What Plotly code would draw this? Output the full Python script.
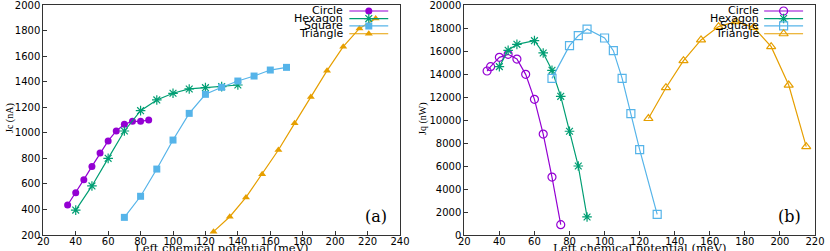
import plotly.graph_objects as go

# ---------------- data ----------------
series_names = ["Circle", "Hexagon", "Square", "Triangle"]
series_colors = ["#9400d3", "#009e73", "#56b4e9", "#e69f00"]

# panel (a): Jc (nA)
a_circle_x = [35, 40, 45, 50, 55, 60, 65, 70, 75, 80, 85]
a_circle_y = [435, 531, 633, 737, 842, 936, 1014, 1066, 1090, 1090, 1100]
a_hex_x = [40, 50, 60, 70, 80, 90, 100, 110, 120, 130, 140]
a_hex_y = [395, 584, 800, 1014, 1173, 1257, 1309, 1343, 1353, 1361, 1374]
a_sq_x = [70, 80, 90, 100, 110, 120, 130, 140, 150, 160, 170]
a_sq_y = [338, 503, 716, 943, 1152, 1301, 1356, 1405, 1444, 1491, 1512]
a_tri_x = [125, 135, 145, 155, 165, 175, 185, 195, 205, 215, 225]
a_tri_y = [226, 343, 494, 675, 865, 1074, 1280, 1486, 1674, 1817, 1895]

# panel (b): Jq (nW)
b_circle_x = [33, 35, 40, 45, 50, 55, 60, 65, 70, 75]
b_circle_y = [14260, 14640, 15450, 15710, 15300, 13970, 11800, 8780, 5040, 900]
b_hex_x = [40, 45, 50, 60, 65, 70, 75, 80, 85, 90]
b_hex_y = [14640, 16060, 16580, 16900, 15830, 14320, 12060, 9020, 6000, 1570]
b_sq_x = [70, 80, 85, 90, 100, 105, 110, 115, 120, 130]
b_sq_y = [13620, 16460, 17330, 17910, 17130, 16030, 13620, 10550, 7420, 1800]
b_tri_x = [125, 135, 145, 155, 165, 175, 185, 195, 205, 215]
b_tri_y = [10130, 12810, 15160, 16960, 18120, 18550, 18060, 16380, 13040, 7680]

a_xticks = list(range(20, 241, 20))
a_yticks = list(range(200, 2001, 200))
b_xticks = list(range(20, 221, 20))
b_yticks = list(range(0, 20001, 2000))

x_title = "Left chemical potential (meV)"
a_y_title = "Jc (nA)"
b_y_title = "Jq (nW)"

# ---------------- styling ----------------
a_symbols = ["circle", "asterisk-open", "square", "triangle-up"]
b_symbols = ["circle-open", "asterisk-open", "square-open", "triangle-up-open"]
a_sizes = [7, 8, 7, 7]
b_sizes = [8, 8, 8, 8]
legend_rows = [0.974, 0.941, 0.909, 0.875]

W, H = 830, 251
TOP, BOT = 5, 16
PH = H - TOP - BOT
a_dom = [43.3 / W, 400 / W]
b_dom = [464.3 / W, 815 / W]

fig = go.Figure()

a_data = [(a_circle_x, a_circle_y), (a_hex_x, a_hex_y), (a_sq_x, a_sq_y), (a_tri_x, a_tri_y)]
b_data = [(b_circle_x, b_circle_y), (b_hex_x, b_hex_y), (b_sq_x, b_sq_y), (b_tri_x, b_tri_y)]


def marker(sym, size, col):
    if "open" in sym:
        return dict(symbol=sym, size=size, color=col, line=dict(color=col, width=1.2))
    return dict(symbol=sym, size=size, color=col, line=dict(width=0))


for (xs, ys), name, col, sym, sz in zip(a_data, series_names, series_colors, a_symbols, a_sizes):
    fig.add_trace(go.Scatter(x=xs, y=ys, mode="lines+markers", name=name,
                             line=dict(color=col, width=1.2), marker=marker(sym, sz, col),
                             xaxis="x", yaxis="y", showlegend=False, cliponaxis=False))
for (xs, ys), name, col, sym, sz in zip(b_data, series_names, series_colors, b_symbols, b_sizes):
    fig.add_trace(go.Scatter(x=xs, y=ys, mode="lines+markers", name=name,
                             line=dict(color=col, width=1.2), marker=marker(sym, sz, col),
                             xaxis="x2", yaxis="y2", showlegend=False, cliponaxis=False))

# legend samples (gnuplot style: text, then line with marker in the middle)
for ax_x, ax_y, syms, sizes, xl, xr in [("x3", "y3", a_symbols, a_sizes, 0.858, 0.967),
                                         ("x4", "y4", b_symbols, b_sizes, 0.855, 0.966)]:
    for name, col, sym, sz, yr in zip(series_names, series_colors, syms, sizes, legend_rows):
        fig.add_trace(go.Scatter(x=[xl, xr], y=[yr, yr], mode="lines", line=dict(color=col, width=1.2),
                                 xaxis=ax_x, yaxis=ax_y, showlegend=False, hoverinfo="skip"))
        fig.add_trace(go.Scatter(x=[(xl + xr) / 2], y=[yr], mode="markers", marker=marker(sym, sz, col),
                                 xaxis=ax_x, yaxis=ax_y, showlegend=False, hoverinfo="skip"))

sans = "DejaVu Sans, Verdana, sans-serif"
serif_wide = "DejaVu Serif, serif"
serif = "Liberation Serif, Times New Roman, serif"
tick_font = dict(family=sans, size=10, color="#000")
border = "#333"

common = dict(showgrid=False, zeroline=False, showline=True, linecolor=border, linewidth=1,
              mirror=True, ticks="inside", ticklen=4, tickcolor=border, tickfont=tick_font,
              tickformat="d", automargin=False, ticklabeloverflow="allow")

fig.update_layout(
    width=W, height=H, margin=dict(l=0, r=0, t=TOP, b=BOT, autoexpand=False),
    paper_bgcolor="white", plot_bgcolor="white", showlegend=False,
    xaxis=dict(domain=a_dom, range=[20, 240], tickvals=a_xticks, anchor="y",
               ticklabelstandoff=-3, **common),
    yaxis=dict(domain=[0, 1], range=[200, 2000], tickvals=a_yticks, anchor="x", **common),
    xaxis2=dict(domain=b_dom, range=[20, 220], tickvals=b_xticks, anchor="y2",
                ticklabelstandoff=-3, **common),
    yaxis2=dict(domain=[0, 1], range=[0, 20000], tickvals=b_yticks, anchor="x2", **common),
    xaxis3=dict(overlaying="x", range=[0, 1], visible=False, anchor="y3"),
    yaxis3=dict(overlaying="y", range=[0, 1], visible=False, anchor="x3"),
    xaxis4=dict(overlaying="x2", range=[0, 1], visible=False, anchor="y4"),
    yaxis4=dict(overlaying="y2", range=[0, 1], visible=False, anchor="x4"),
)

# axis titles as annotations (positions in figure pixels converted to paper coords)
title_y = -(248 - (H - BOT)) / PH
for dom in (a_dom, b_dom):
    fig.add_annotation(x=(dom[0] + dom[1]) / 2, y=title_y, xref="paper", yref="paper", text=x_title,
                       showarrow=False, xanchor="center", yanchor="middle",
                       font=dict(family=serif_wide, size=11.5, color="#000"))
ytitle_y = ((H - BOT) - 118) / PH
for xp, txt in [(10, a_y_title), (423, b_y_title)]:
    fig.add_annotation(x=xp / W, y=ytitle_y, xref="paper", yref="paper", text=txt, textangle=-90,
                       showarrow=False, xanchor="center", yanchor="middle",
                       font=dict(family=serif, size=10, color="#000"))

leg_font = dict(family=sans, size=11, color="#000")
for xref, yref, xt in [("x domain", "y domain", 0.846), ("x2 domain", "y2 domain", 0.845)]:
    for name, yr in zip(series_names, legend_rows):
        fig.add_annotation(x=xt, y=yr, xref=xref, yref=yref, text=name, showarrow=False,
                           xanchor="right", yanchor="middle", font=leg_font)

fig.add_annotation(x=0.968, y=0.03, xref="x domain", yref="y domain", text="(a)", showarrow=False,
                   xanchor="right", yanchor="bottom", font=dict(family=serif_wide, size=16, color="#000"))
fig.add_annotation(x=0.966, y=0.03, xref="x2 domain", yref="y2 domain", text="(b)", showarrow=False,
                   xanchor="right", yanchor="bottom", font=dict(family=serif_wide, size=16, color="#000"))

fig.write_html("out.html", config={"displayModeBar": False})

# remove the browser's default page margin so the figure sits at the window origin
with open("out.html", "r", encoding="utf-8") as fh:
    html = fh.read()
html = html.replace("<head>", "<head><style>html,body{margin:0;padding:0;overflow:hidden;}</style>", 1)
with open("out.html", "w", encoding="utf-8") as fh:
    fh.write(html)
